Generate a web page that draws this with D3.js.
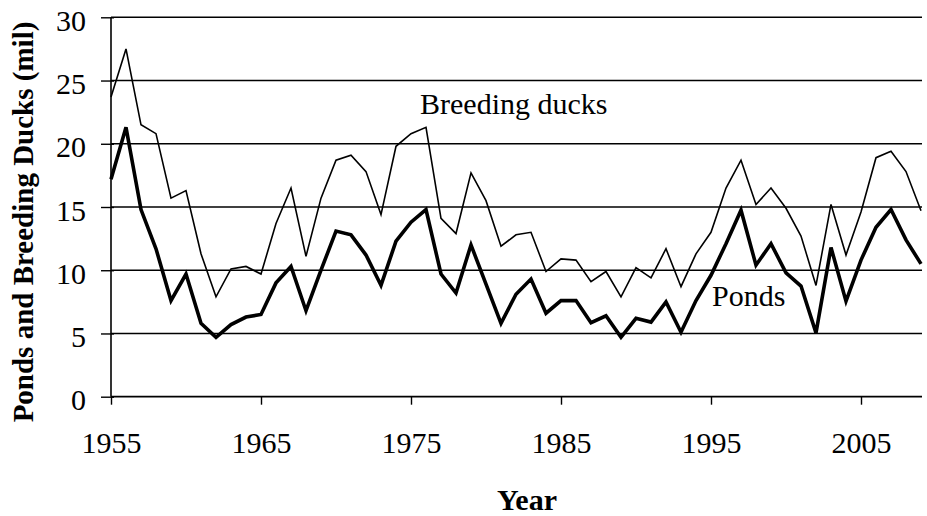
<!DOCTYPE html>
<html lang="en">
<head>
    <meta charset="utf-8">
    <script src="https://cdn.jsdelivr.net/npm/d3@7"></script>
    <style type="text/css">
        body { margin: 0; background: #fff; }
        svg text { font-family: "Liberation Serif", "Times New Roman", serif; fill: #000; }
    </style>
</head>
<body>
    <script>
        let years = [1955, 1956, 1957, 1958, 1959, 1960, 1961, 1962, 1963, 1964,
                     1965, 1966, 1967, 1968, 1969, 1970, 1971, 1972, 1973, 1974,
                     1975, 1976, 1977, 1978, 1979, 1980, 1981, 1982, 1983, 1984,
                     1985, 1986, 1987, 1988, 1989, 1990, 1991, 1992, 1993, 1994,
                     1995, 1996, 1997, 1998, 1999, 2000, 2001, 2002, 2003, 2004,
                     2005, 2006, 2007, 2008, 2009];
        let ducks = [23.7, 27.5, 21.5, 20.8, 15.7, 16.3, 11.3, 7.9, 10.1, 10.3,
                     9.7, 13.7, 16.5, 11.1, 15.7, 18.7, 19.1, 17.8, 14.4, 19.8,
                     20.8, 21.3, 14.1, 12.9, 17.7, 15.5, 11.9, 12.8, 13.0, 9.9,
                     10.9, 10.8, 9.1, 9.9, 7.9, 10.2, 9.4, 11.7, 8.7, 11.3,
                     13.0, 16.5, 18.7, 15.2, 16.5, 14.9, 12.7, 8.8, 15.2, 11.2,
                     14.6, 18.9, 19.4, 17.8, 14.7];
        let ponds = [17.2, 21.3, 14.8, 11.7, 7.6, 9.7, 5.8, 4.7, 5.7, 6.3,
                     6.5, 9.0, 10.3, 6.8, 10.0, 13.1, 12.8, 11.2, 8.8, 12.3,
                     13.8, 14.8, 9.7, 8.2, 12.0, 8.9, 5.8, 8.1, 9.3, 6.6,
                     7.6, 7.6, 5.85, 6.4, 4.7, 6.2, 5.9, 7.5, 5.1, 7.6,
                     9.6, 12.1, 14.75, 10.4, 12.1, 9.8, 8.75, 5.05, 11.8, 7.55,
                     10.8, 13.4, 14.8, 12.4, 10.5];
        let xTicks = [1955, 1965, 1975, 1985, 1995, 2005];
        let yTicks = [0, 5, 10, 15, 20, 25, 30];

        let w = 927;
        let h = 516;
        let padLeft = 111, padRight = 921, padTop = 17.3, padBottom = 396.7;
        let serif = "'Liberation Serif', 'Times New Roman', serif";

        let svg = d3.select("body")
                    .append("svg")
                    .attr("width", w)
                    .attr("height", h);

        let xScale = d3.scaleLinear()
                       .domain([1955, 2009])
                       .range([padLeft, padRight]);
        let yScale = d3.scaleLinear()
                       .domain([0, 30])
                       .range([padBottom, padTop]);

        // horizontal gridlines
        svg.append("g")
           .selectAll("line")
           .data(yTicks.filter((d) => d > 0))
           .enter()
           .append("line")
           .attr("x1", padLeft)
           .attr("x2", padRight + 1)
           .attr("y1", (d) => yScale(d))
           .attr("y2", (d) => yScale(d))
           .attr("stroke", "#000")
           .attr("stroke-width", 1.4);

        // y axis
        let yAxis = d3.axisLeft(yScale).tickValues(yTicks).tickSize(10);
        let gy = svg.append("g")
                    .attr("transform", "translate(" + padLeft + ", 0)")
                    .call(yAxis)
                    .attr("font-family", serif);
        gy.select(".domain").attr("stroke", "#000").attr("stroke-width", 1.6)
          .attr("d", "M0," + yScale(30) + "V" + yScale(0));
        gy.selectAll(".tick line").attr("stroke", "#000").attr("stroke-width", 1.4).attr("x2", -10).attr("x1", 3);
        gy.selectAll(".tick text")
          .attr("font-size", "30px")
          .attr("dy", "13")
          .attr("x", -25);

        // x axis
        let xAxis = d3.axisBottom(xScale).tickValues(xTicks).tickSize(8).tickFormat(d3.format("d"));
        let gx = svg.append("g")
                    .attr("transform", "translate(0, " + padBottom + ")")
                    .call(xAxis)
                    .attr("font-family", serif);
        gx.select(".domain").attr("stroke", "#000").attr("stroke-width", 1.8)
          .attr("d", "M" + padLeft + ",0H" + (padRight + 1));
        gx.selectAll(".tick line").attr("stroke", "#000").attr("stroke-width", 1.4);
        gx.selectAll(".tick text")
          .attr("font-size", "30px")
          .attr("dy", null)
          .attr("y", 56);
        svg.selectAll(".tick text").attr("fill", "#000");

        // series lines
        let line = d3.line()
                     .x((d, i) => xScale(years[i]))
                     .y((d) => yScale(d));

        svg.append("path")
           .datum(ducks)
           .attr("d", line)
           .attr("fill", "none")
           .attr("stroke", "#000")
           .attr("stroke-width", 1.6)
           .attr("stroke-linejoin", "miter");

        svg.append("path")
           .datum(ponds)
           .attr("d", line)
           .attr("fill", "none")
           .attr("stroke", "#000")
           .attr("stroke-width", 3.6)
           .attr("stroke-linejoin", "miter");

        // series labels
        svg.append("text")
           .attr("x", 420)
           .attr("y", 114)
           .attr("font-family", serif)
           .attr("font-size", "30px")
           .text("Breeding ducks");

        svg.append("text")
           .attr("x", 712)
           .attr("y", 306)
           .attr("font-family", serif)
           .attr("font-size", "30px")
           .text("Ponds");

        // axis titles
        svg.append("text")
           .attr("x", 527)
           .attr("y", 510)
           .attr("text-anchor", "middle")
           .attr("font-family", serif)
           .attr("font-size", "30px")
           .attr("font-weight", "bold")
           .text("Year");

        svg.append("text")
           .attr("x", 33)
           .attr("y", 222)
           .attr("text-anchor", "middle")
           .attr("font-family", serif)
           .attr("font-size", "29px")
           .attr("font-weight", "bold")
           .attr("transform", "rotate(-90, 33, 222)")
           .text("Ponds and Breeding Ducks (mil)");
    </script>
</body>
</html>
